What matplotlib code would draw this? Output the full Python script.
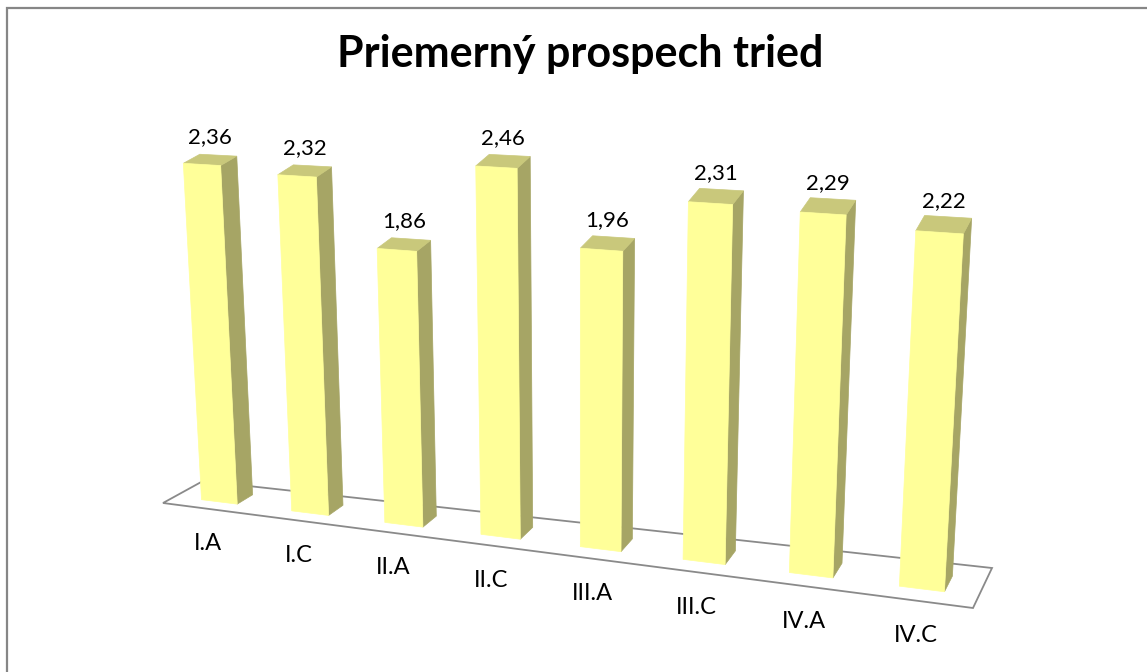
import numpy as np
import matplotlib
matplotlib.use("Agg")
import matplotlib.pyplot as plt
from matplotlib.patches import Polygon

classes = ["I.A", "I.C", "II.A", "II.C", "III.A", "III.C", "IV.A", "IV.C"]
grades = [2.36, 2.32, 1.86, 2.46, 1.96, 2.31, 2.29, 2.22]
title = "Priemerný prospech tried"

# floor of the 3d chart in pixels
front_left = np.array([163.0, 503.0])
front_right = np.array([973.0, 608.0])
depth_left = np.array([40.0, -22.0])    # front -> back on the left side
depth_right = np.array([19.0, -40.0])   # front -> back on the right side
persp = -0.1245                         # right side is nearer to the eye
vanish = np.array([580.0, 7500.0])      # where the vertical edges meet
px_per_unit = 151.5                     # height of 1.0 in the middle
bar_w = 0.4                             # gap width 150 %
bar_d = (0.3, 0.7)                      # gap depth 150 %

front_col = "#FFFF99"
side_col = "#A6A565"
top_col = "#C9C87B"
line_col = "#8A8A8A"
font = "Lato"


def g(u):
    return (1 + persp) * u / (1 + persp * u)


def floor_pt(u, v):
    t = g(u)
    d = depth_left + (depth_right - depth_left) * t
    return front_left + (front_right - front_left) * t + v * d


def lift(u, v, z):
    b = floor_pt(u, v)
    d = b - vanish
    d = d / np.hypot(*d)
    scale = px_per_unit * (1 + persp * 0.5) / (1 + persp * u)
    return b + d * z * scale


fig = plt.figure(figsize=(11.47, 6.72), dpi=100)
ax = fig.add_axes([0, 0, 1, 1])
ax.set_xlim(0, 1147)
ax.set_ylim(672, 0)
ax.axis("off")

# chart border (only left and top edges are inside the picture)
ax.plot([7, 7, 1147], [672, 8, 8], color="#868686", lw=1.6, solid_joinstyle="miter")

# floor
corners = [floor_pt(0, 0), floor_pt(1, 0), floor_pt(1, 1), floor_pt(0, 1)]
ax.add_patch(Polygon(corners, closed=True, facecolor="white", edgecolor=line_col,
                     lw=1.3, zorder=1))

n = len(grades)
v0, v1 = bar_d
for i, (name, val) in enumerate(zip(classes, grades)):
    uc = (i + 0.5) / n
    u0 = uc - bar_w / 2 / n
    u1 = uc + bar_w / 2 / n
    front = [lift(u0, v0, 0), lift(u1, v0, 0), lift(u1, v0, val), lift(u0, v0, val)]
    side = [lift(u1, v0, 0), lift(u1, v1, 0), lift(u1, v1, val), lift(u1, v0, val)]
    top = [lift(u0, v0, val), lift(u1, v0, val), lift(u1, v1, val), lift(u0, v1, val)]
    for pts, c in ((side, side_col), (top, top_col), (front, front_col)):
        ax.add_patch(Polygon(pts, closed=True, facecolor=c, edgecolor=c, lw=0.5, zorder=2))

    tc = lift(uc, 0.5, val)
    ax.annotate("{:.2f}".format(val).replace(".", ","), tc, xytext=(0, 23),
                textcoords="offset pixels", ha="center", va="center",
                fontsize=16, family=font, zorder=3)

    fc = floor_pt(uc, 0)
    ax.annotate(name, fc, xytext=(0, -35), textcoords="offset pixels",
                ha="center", va="center", fontsize=17, family=font, zorder=3)

ax.text(580.5, 67, title, ha="center", va="baseline", fontsize=31,
        fontweight="bold", family=font)

fig.savefig("out.png", dpi=100)
